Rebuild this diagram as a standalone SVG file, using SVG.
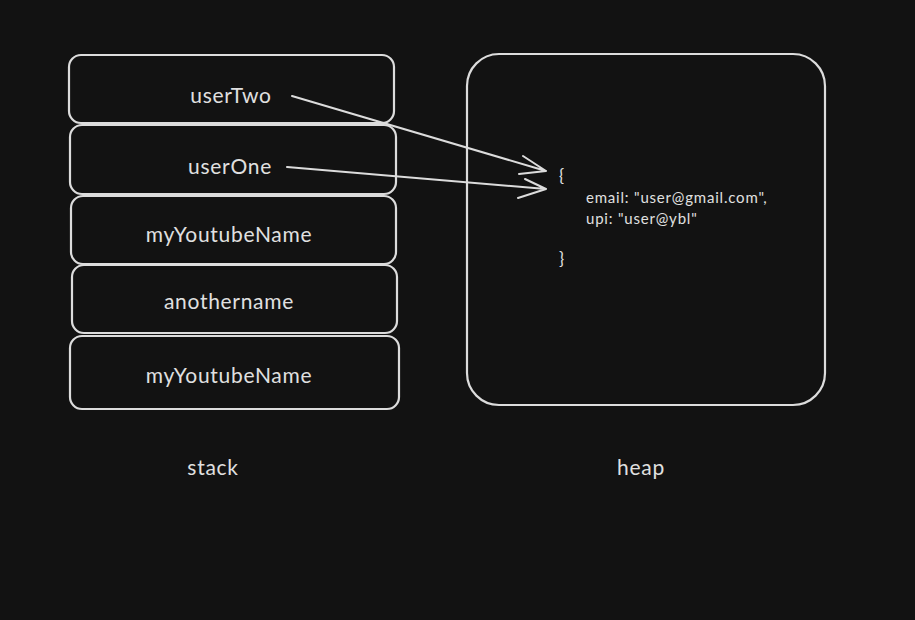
<svg xmlns="http://www.w3.org/2000/svg" width="915" height="620" viewBox="0 0 915 620">
<defs>
<style>
.box{fill:none;stroke:#dcdcdc;stroke-width:2.2}
.lbl{font-family:"Lato","Liberation Sans",sans-serif;font-size:21px;letter-spacing:0.7px;fill:#e0e0e0;text-anchor:middle;dominant-baseline:central}
.code{font-family:"Lato","Liberation Sans",sans-serif;font-size:15px;letter-spacing:0.8px;fill:#e0e0e0;dominant-baseline:central}
.brace{font-family:"Lato","Liberation Sans",sans-serif;font-size:17px;fill:#e0e0e0;dominant-baseline:central}
.conn{fill:none;stroke:#dcdcdc;stroke-width:2;stroke-linecap:round;stroke-linejoin:round}
</style>
</defs>
<rect width="915" height="620" fill="#121212"/>
<g id="userTwo"><rect class="box" x="69" y="55" width="325" height="68" rx="12"/><text class="lbl" x="231" y="94">userTwo</text></g>
<g id="userOne"><rect class="box" x="70" y="125" width="326" height="69" rx="12"/><text class="lbl" x="230" y="165">userOne</text></g>
<g id="myYoutubeName1"><rect class="box" x="71" y="196" width="325" height="68" rx="12"/><text class="lbl" x="229" y="233">myYoutubeName</text></g>
<g id="anothername"><rect class="box" x="72" y="265" width="325" height="68" rx="12"/><text class="lbl" x="229" y="300">anothername</text></g>
<g id="myYoutubeName2"><rect class="box" x="70" y="336" width="329" height="73" rx="12"/><text class="lbl" x="229" y="374">myYoutubeName</text></g>
<g id="heap"><rect class="box" x="467" y="54" width="358" height="351" rx="32"/>
<text class="brace" x="559" y="175">{</text>
<text class="code" x="586" y="197">email: "user@gmail.com",</text>
<text class="code" x="586" y="218">upi: "user@ybl"</text>
<text class="brace" x="559" y="258">}</text>
</g>
<g id="stackLabel"><text class="lbl" x="213" y="466">stack</text></g>
<g id="heapLabel"><text class="lbl" x="641" y="466">heap</text></g>
<g id="connectors">
<path class="conn" d="M292 96 L546 171 M523 156 L546 171 L519 174"/>
<path class="conn" d="M287 167 L546 189 M525 179 L546 189 L518 198" stroke-width="2.5"/>
</g>
</svg>
